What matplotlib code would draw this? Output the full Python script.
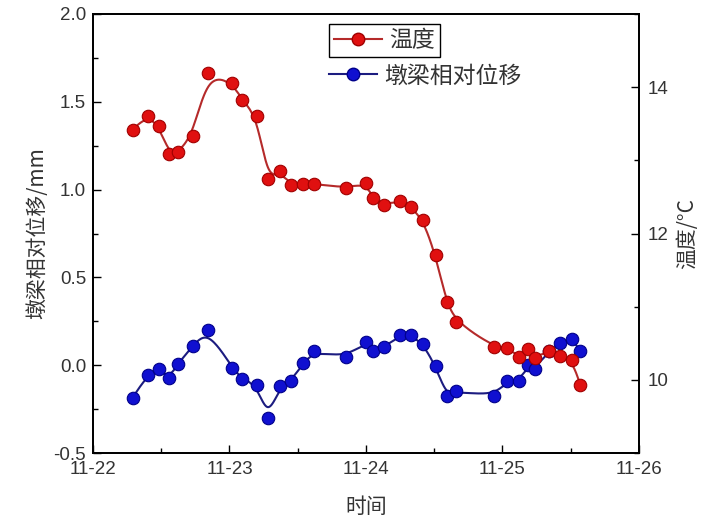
import matplotlib.pyplot as plt
import numpy as np

plt.rcParams['font.family'] = ['Liberation Sans', 'DejaVu Sans']
CJK = ['Noto Sans CJK SC', 'DejaVu Sans']

# time as day of November
days = [22.29, 22.40, 22.48, 22.56, 22.62, 22.73, 22.84, 23.02, 23.09, 23.20,
        23.28, 23.37, 23.45, 23.54, 23.62, 23.85, 24.00, 24.05, 24.13, 24.25,
        24.33, 24.42, 24.51, 24.59, 24.66, 24.94, 25.03, 25.12, 25.19, 25.24,
        25.34, 25.42, 25.51, 25.57]

temp = [13.42, 13.61, 13.47, 13.09, 13.11, 13.33, 14.19, 14.06, 13.83, 13.61,
        12.74, 12.85, 12.66, 12.68, 12.68, 12.62, 12.69, 12.48, 12.39, 12.45,
        12.36, 12.18, 11.70, 11.06, 10.79, 10.45, 10.44, 10.31, 10.42, 10.30,
        10.40, 10.32, 10.27, 9.93]

disp = [-0.184, -0.057, -0.023, -0.072, 0.007, 0.108, 0.203, -0.015, -0.076, -0.112,
        -0.300, -0.121, -0.089, 0.010, 0.080, 0.044, 0.134, 0.081, 0.101, 0.171,
        0.171, 0.118, -0.006, -0.173, -0.148, -0.175, -0.091, -0.091, 0.000, -0.019,
        0.081, 0.124, 0.152, 0.081]

xticks = [22, 23, 24, 25, 26]
xlabels = ['11-22', '11-23', '11-24', '11-25', '11-26']


def bspline(x, y, n=25):
    # uniform cubic B-spline (clamped ends), like Origin's B-spline connect
    px = np.r_[[x[0]] * 2, x, [x[-1]] * 2]
    py = np.r_[[y[0]] * 2, y, [y[-1]] * 2]
    t = np.linspace(0, 1, n, endpoint=False)
    b0 = (1 - t) ** 3 / 6
    b1 = (3 * t ** 3 - 6 * t ** 2 + 4) / 6
    b2 = (-3 * t ** 3 + 3 * t ** 2 + 3 * t + 1) / 6
    b3 = t ** 3 / 6
    xs, ys = [], []
    for i in range(len(px) - 3):
        xs.append(b0 * px[i] + b1 * px[i + 1] + b2 * px[i + 2] + b3 * px[i + 3])
        ys.append(b0 * py[i] + b1 * py[i + 1] + b2 * py[i + 2] + b3 * py[i + 3])
    xs.append([x[-1]])
    ys.append([y[-1]])
    return np.concatenate(xs), np.concatenate(ys)


fig = plt.figure(figsize=(7.03, 5.20), dpi=100)
ax = fig.add_axes([0.1323, 0.1288, 0.7766, 0.8443])
ax2 = ax.twinx()

red_line = '#b52a2a'
blue_line = '#1c1c80'
txt = '#333333'

sx, sy = bspline(np.array(days), np.array(disp))
ax.plot(sx, sy, color=blue_line, lw=1.5, zorder=2)
ax.plot(days, disp, ls='none', marker='o', ms=9, mfc='#1010d0', mec='#00008a',
        mew=0.8, zorder=3)

tx, ty = bspline(np.array(days), np.array(temp))
ax2.plot(tx, ty, color=red_line, lw=1.5, zorder=2)
ax2.plot(days, temp, ls='none', marker='o', ms=9, mfc='#e01010', mec='#a00000',
         mew=0.8, zorder=3)

ax.set_xlim(22, 26)
ax.set_ylim(-0.5, 2.0)
ax2.set_ylim(9, 15)

ax.set_xticks(xticks)
ax.set_xticklabels(xlabels)
ax.set_xticks(np.arange(22.5, 26, 1), minor=True)
ax.set_yticks(np.arange(-0.5, 2.01, 0.5))
ax.set_yticklabels(['-0.5', '0.0', '0.5', '1.0', '1.5', '2.0'])
ax.set_yticks(np.arange(-0.25, 2.0, 0.5), minor=True)
ax2.set_yticks([10, 12, 14])
ax2.set_yticks([9, 11, 13, 15], minor=True)

ax.tick_params(axis='both', which='both', direction='in', labelsize=13.5,
               top=False, right=False, color='black', labelcolor=txt)
ax.tick_params(which='major', length=6, width=1)
ax.tick_params(which='minor', length=3.5, width=1)
ax.tick_params(axis='x', pad=6)
ax.tick_params(axis='y', pad=5)
ax2.tick_params(axis='y', which='both', direction='in', labelsize=13.5, pad=6,
                labelcolor=txt)
ax2.tick_params(which='major', length=6, width=1)
ax2.tick_params(which='minor', length=3.5, width=1)

for a in (ax, ax2):
    for s in a.spines.values():
        s.set_linewidth(1.3)

ax.set_xlabel('时间', family=CJK, fontsize=15, color=txt, labelpad=13)
ax.set_ylabel('墩梁相对位移/mm', family=CJK, fontsize=15, color=txt, labelpad=4)
ax2.set_ylabel('温度/°C', family=CJK, fontsize=15, color=txt, labelpad=6)

h_red = plt.Line2D([], [], color=red_line, lw=1.5, marker='o', ms=9,
                   mfc='#e01010', mec='#a00000')
h_blue = plt.Line2D([], [], color=blue_line, lw=1.5, marker='o', ms=9,
                    mfc='#1010d0', mec='#00008a')

leg1 = ax2.legend([h_red], ['温度'], loc='upper left',
                  bbox_to_anchor=(0.432, 0.977), prop={'family': CJK, 'size': 16.5},
                  handlelength=2.1, handletextpad=0.3, borderpad=0.22,
                  borderaxespad=0, fancybox=False, edgecolor='black',
                  framealpha=1, labelcolor=txt)
leg1.get_frame().set_linewidth(1.0)
ax2.add_artist(leg1)
ax2.legend([h_blue], ['墩梁相对位移'], loc='upper left',
           bbox_to_anchor=(0.426, 0.893), prop={'family': CJK, 'size': 16.5},
           handlelength=2.1, handletextpad=0.3, borderpad=0.15,
           borderaxespad=0, frameon=False, labelcolor=txt)

fig.savefig('out.png', dpi=100)
